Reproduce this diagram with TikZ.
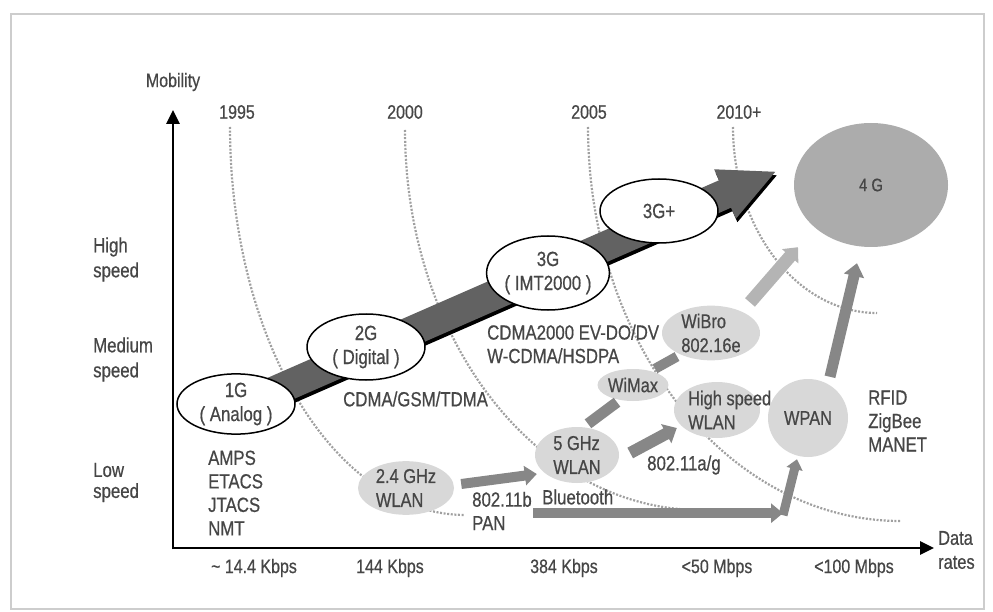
\documentclass[tikz,border=0pt]{standalone}
\usepackage{fontspec}
\setmainfont[FakeStretch=0.82,FakeBold=0.6]{Liberation Sans}
\usetikzlibrary{shapes.geometric,arrows.meta,calc}

\definecolor{ink}{RGB}{70,70,70}
\definecolor{bandgray}{RGB}{98,98,98}
\definecolor{nodegray}{RGB}{216,216,216}
\definecolor{fourg}{RGB}{172,172,172}
\definecolor{flowgray}{RGB}{135,135,135}
\definecolor{flowlight}{RGB}{180,180,180}
\definecolor{eragray}{RGB}{160,160,160}
\definecolor{framegray}{RGB}{205,205,205}

\begin{document}
\begin{tikzpicture}[x=1pt,y=-1pt,
  gen/.style={ellipse, draw=black, line width=1.5pt, fill=white, inner sep=0pt,
              align=center, text=ink, font=\fontsize{20.5}{24}\selectfont},
  tech/.style={ellipse, fill=nodegray, inner sep=0pt, align=left, text=ink,
               font=\fontsize{20}{24}\selectfont},
  txt/.style={inner sep=0pt, align=left, text=ink, font=\fontsize{20.5}{23.5}\selectfont},
  axtxt/.style={inner sep=0pt, text=ink, font=\fontsize{19.5}{22}\selectfont},
  eraline/.style={draw=eragray, line width=2.2pt, dash pattern=on 2pt off 1.6pt},
  fatarrow/.style={draw=flowgray, line width=10pt,
                   -{Triangle[length=12pt,width=19pt]}},
  fatband/.style={draw=flowgray, line width=11pt},
  axisline/.style={draw=black, line width=2.6pt,
                   -{Triangle[length=14pt,width=13pt]}},
]
\useasboundingbox (0,0) rectangle (993,612);

% page frame
\draw[framegray, line width=1.6pt] (11,14) rectangle (984,609);

% year contours
\draw[eraline] plot[domain=180:90, samples=80] ({465+235*cos(\x)}, {127+388*sin(\x)});
\draw[eraline] plot[domain=180:90, samples=80] ({700+295*cos(\x)}, {130+380*sin(\x)});
\draw[eraline] plot[domain=180:90, samples=80] ({900+312*cos(\x)}, {127+394*sin(\x)});
\draw[eraline] plot[domain=180:90, samples=60] ({877+144*cos(\x)}, {127+186*sin(\x)});

\node[axtxt] (y1995) at (237,112) {1995};
\node[axtxt] (y2000) at (405,112) {2000};
\node[axtxt] (y2005) at (589,112) {2005};
\node[axtxt] (y2010) at (739,112) {2010+};

% cellular generations band with its arrow head
\fill[black] (231.5,397.8) -- (720.5,183.8) -- (715.6,172.8) -- (776.8,175.3)
             -- (737.4,222.2) -- (732.5,211.2) -- (243.5,425.2) -- cycle;
\fill[bandgray] (230,394.3) -- (719,180.3) -- (714.1,169.3) -- (775.3,171.8)
             -- (735.9,218.7) -- (731,207.7) -- (242,421.7) -- cycle;

% generation nodes
\node[gen, minimum width=118pt, minimum height=58pt] (g1) at (236,404) {1G\\( Analog )};
\node[gen, minimum width=118pt, minimum height=66pt] (g2) at (366,347) {2G\\( Digital )};
\node[gen, minimum width=116pt, minimum height=74pt] (g3) at (548,273) {3G\\( IMT2000 )};
\node[gen, minimum width=118pt, minimum height=64pt] (g3p) at (659,211) {3G+};
\node[ellipse, fill=fourg, inner sep=0pt, minimum width=154pt, minimum height=124pt,
      text=ink, font=\fontsize{18}{20}\selectfont] (g4) at (871,185) {4 G};

% wireless technology nodes
\node[tech, minimum width=96pt, minimum height=48pt] (w24) at (406,488) {2.4 GHz\\WLAN};
\node[tech, minimum width=84pt, minimum height=56pt] (w5) at (577,455) {5 GHz\\WLAN};
\node[tech, minimum width=66pt, minimum height=32pt] (wimax) at (633,385) {WiMax};
\node[tech, minimum width=98pt, minimum height=52pt] (wibro) at (711,333) {WiBro\\802.16e};
\node[tech, minimum width=86pt, minimum height=56pt] (hsw) at (717,410) {};
\node[txt, anchor=west, font=\fontsize{20}{24}\selectfont] (hswtext) at (688,410) {High speed\\WLAN};
\node[tech, minimum width=80pt, minimum height=78pt] (wpan) at (808,418) {WPAN};

% evolution arrows between technologies
\draw[fatarrow] ($(w24.east)+(7,-4)$) -- ($(w5.west)+(2,19)$);
\draw[fatband] ($(w5.north)+(11,-3)$) -- ($(wimax.south)+(-16,1)$);
\draw[fatband, line width=10pt] ($(wimax.north)+(22,0)$) -- ($(wibro.south)+(-34,-4)$);
\draw[fatarrow, line width=12pt, -{Triangle[length=12pt,width=21pt]}]
     ($(w5.east)+(11,-2)$) -- ($(hsw.west)+(3,18)$);
\draw[fatarrow, draw=flowlight, line width=13pt, -{Triangle[length=12pt,width=21pt]}]
     ($(wibro.north)+(39,-3)$) -- ($(g4.south)+(-73,0)$);
\draw[fatarrow, line width=11pt, -{Triangle[length=13pt,width=20pt]}]
     ($(wpan.north)+(22,-2)$) -- ($(g4.south)+(-14,16)$);
\coordinate (bend) at ($(wpan.south)+(-25,56)$);
\draw[fatarrow] ($(w5.south)+(-44,30)$) -- (bend);
\draw[fatarrow, line width=9pt, -{Triangle[length=10pt,width=16pt]}]
     ($(bend)+(0,2)$) -- ($(wpan.south)+(-11,2)$);

% technology annotations
\node[txt, anchor=west] (t2g) at (343,399) {CDMA/GSM/TDMA};
\node[txt, anchor=west] (t3g) at (487,344) {CDMA2000 EV-DO/DV\\W-CDMA/HSDPA};
\node[txt, anchor=west] (t1g) at (208,493) {AMPS\\ETACS\\JTACS\\NMT};
\node[txt, anchor=west] (tpan) at (472,511) {802.11b\\PAN};
\node[txt, anchor=west] (tbt) at (542,497) {Bluetooth};
\node[txt, anchor=west] (tag) at (647,465) {802.11a/g};
\node[txt, anchor=west] (trf) at (868,421) {RFID\\ZigBee\\MANET};

% axes
\coordinate (origin) at (173,548);
\coordinate (ytop) at (173,110);
\coordinate (xend) at (934,548);
\draw[axisline] (origin) -- (ytop);
\draw[axisline] (origin) -- (xend);
\draw[black, line width=2.6pt] (173,549.3) -- (173,546);

\node[axtxt] (mob) at (173,82) {Mobility};
\node[txt, anchor=west, font=\fontsize{20}{24}\selectfont] (drates) at (938,550) {Data\\rates};
\node[txt, anchor=west, font=\fontsize{20.5}{25}\selectfont] (hs) at (93,259.5) {High\\speed};
\node[txt, anchor=west, font=\fontsize{20.5}{25}\selectfont] (ms) at (93,359.5) {Medium\\speed};
\node[txt, anchor=west, font=\fontsize{20.5}{21}\selectfont] (ls) at (93,482.5) {Low\\speed};

\node[axtxt] (r1) at (254,568) {\textasciitilde{} 14.4 Kbps};
\node[axtxt] (r2) at (390,568) {144 Kbps};
\node[axtxt] (r3) at (564,568) {384 Kbps};
\node[axtxt] (r4) at (717,568) {<50 Mbps};
\node[axtxt] (r5) at (854,568) {<100 Mbps};
\end{tikzpicture}
\end{document}
